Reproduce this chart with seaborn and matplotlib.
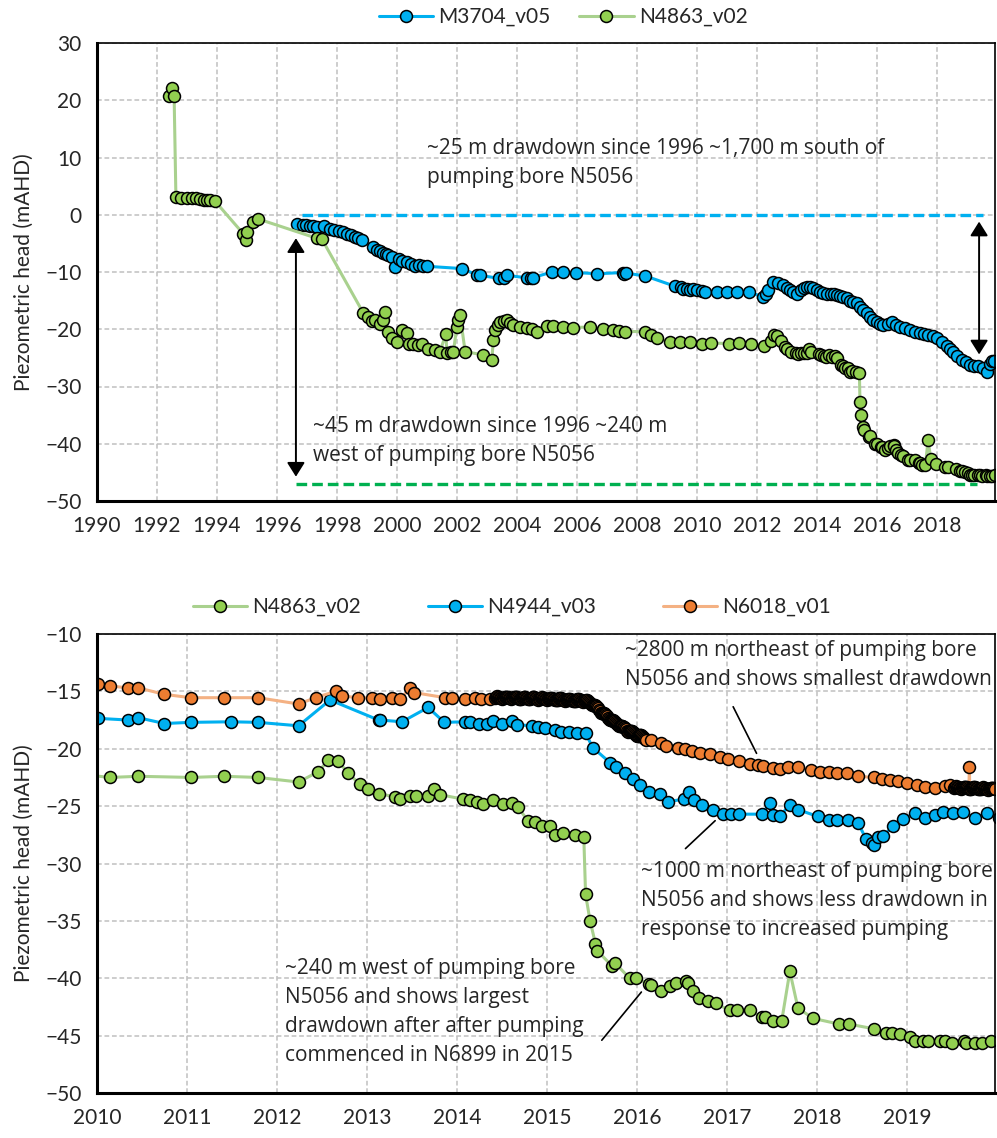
import matplotlib
matplotlib.use("Agg")
import matplotlib.pyplot as plt
import pandas as pd
import seaborn as sns

# ======================================================
# DATA (decimal years, piezometric head mAHD)
# ======================================================

m3704_year = [1996.68, 1996.85, 1996.95, 1997.10, 1997.20, 1997.32, 1997.55, 1997.75, 1997.90, 1998.05,
              1998.20, 1998.32, 1998.45, 1998.60, 1998.71, 1998.82, 1999.21, 1999.32, 1999.42, 1999.54,
              1999.62, 1999.71, 1999.82, 1999.93, 2000.05, 2000.16, 2000.32, 2000.45, 2000.60, 2000.72,
              2000.85, 2000.99, 2002.16, 2002.66, 2002.77, 2003.40, 2003.55, 2003.66, 2004.32, 2004.45,
              2004.52, 2005.16, 2005.54, 2005.95, 2006.68, 2007.52, 2007.58, 2007.64, 2008.28, 2009.27,
              2009.45, 2009.54, 2009.65, 2009.77, 2009.88, 2009.99, 2010.15, 2010.27, 2010.66, 2010.99,
              2011.32, 2011.74, 2012.19, 2012.30, 2012.38, 2012.54, 2012.70, 2012.88, 2013.00, 2013.10,
              2013.21, 2013.32, 2013.45, 2013.55, 2013.66, 2013.77, 2013.88, 2014.00, 2014.10, 2014.21,
              2014.32, 2014.45, 2014.55, 2014.66, 2014.77, 2014.88, 2014.99, 2015.10, 2015.21, 2015.32,
              2015.43, 2015.54, 2015.65, 2015.77, 2015.88, 2015.99, 2016.10, 2016.21, 2016.35, 2016.49,
              2016.63, 2016.77, 2016.92, 2017.10, 2017.25, 2017.43, 2017.57, 2017.71, 2017.85, 2017.99,
              2018.15, 2018.32, 2018.43, 2018.54, 2018.68, 2018.82, 2018.96, 2019.10, 2019.24, 2019.38,
              2019.52, 2019.66, 2019.75, 2019.82, 2019.90]
m3704_head = [-1.6, -1.8, -1.8, -1.9, -2.0, -2.2, -1.9, -2.5, -2.7, -2.9,
              -3.1, -3.35, -3.5, -3.8, -4.0, -4.4, -5.7, -6.1, -6.3, -6.6,
              -6.9, -7.1, -7.4, -9.15, -7.8, -8.0, -8.2, -8.6, -8.9, -8.7,
              -8.9, -9.0, -9.4, -10.5, -10.6, -11.1, -11.0, -10.6, -11.0, -11.1,
              -11.0, -10.0, -10.0, -10.1, -10.3, -10.1, -10.3, -10.2, -10.7, -12.5,
              -12.7, -12.9, -13.0, -13.1, -13.0, -13.2, -13.4, -13.5, -13.5, -13.5,
              -13.5, -13.5, -14.35, -13.8, -13.2, -11.75, -12.0, -12.2, -12.8, -13.2,
              -13.5, -13.8, -13.2, -12.8, -12.6, -12.6, -12.8, -13.2, -13.5, -13.6,
              -13.8, -13.9, -13.8, -14.0, -14.2, -14.4, -14.6, -15.0, -15.2, -15.5,
              -16.1, -16.7, -17.2, -17.8, -18.3, -18.7, -19.0, -19.3, -19.0, -18.7,
              -19.2, -19.6, -19.8, -20.1, -20.4, -20.7, -20.8, -21.0, -21.2, -21.6,
              -22.2, -23.0, -23.4, -23.9, -24.6, -25.3, -25.8, -26.2, -26.4, -26.5,
              -26.8, -27.5, -26.0, -25.6, -25.5]

n4863_year = [1992.41, 1992.49, 1992.57, 1992.63, 1992.80, 1992.99, 1993.16, 1993.30, 1993.43, 1993.55,
              1993.66, 1993.75, 1993.93, 1994.88, 1994.95, 1994.99, 1995.21, 1995.38, 1997.32, 1997.49,
              1998.88, 1999.04, 1999.15, 1999.27, 1999.43, 1999.54, 1999.60, 1999.71, 1999.82, 1999.99,
              2000.16, 2000.32, 2000.40, 2000.54, 2000.70, 2000.82, 2001.04, 2001.25, 2001.43, 2001.63,
              2001.66, 2001.80, 2001.88, 2001.99, 2002.04, 2002.10, 2002.27, 2002.88, 2003.16, 2003.21,
              2003.27, 2003.35, 2003.43, 2003.55, 2003.66, 2003.77, 2003.88, 2004.10, 2004.32, 2004.50,
              2004.66, 2004.99, 2005.21, 2005.54, 2005.88, 2006.43, 2006.88, 2007.21, 2007.40, 2007.60,
              2008.27, 2008.45, 2008.66, 2009.10, 2009.43, 2009.77,
              2010.15, 2010.46, 2011.05, 2011.41, 2011.79, 2012.24, 2012.46, 2012.57, 2012.68, 2012.79,
              2012.92, 2013.01, 2013.13, 2013.31, 2013.37, 2013.48, 2013.55, 2013.68, 2013.74, 2013.81,
              2014.07, 2014.14, 2014.22, 2014.29, 2014.40, 2014.51, 2014.61, 2014.68, 2014.79, 2014.87,
              2014.94, 2015.03, 2015.09, 2015.18, 2015.31, 2015.41, 2015.43, 2015.48, 2015.54, 2015.56,
              2015.72, 2015.76, 2015.92, 2015.99, 2016.13, 2016.16, 2016.27, 2016.37, 2016.44, 2016.55,
              2016.57, 2016.62, 2016.69, 2016.79, 2016.88, 2017.03, 2017.11, 2017.26, 2017.39, 2017.42,
              2017.51, 2017.61, 2017.70, 2017.79, 2017.96, 2018.25, 2018.36, 2018.63, 2018.77, 2018.84,
              2018.92, 2019.03, 2019.09, 2019.18, 2019.23, 2019.37, 2019.42, 2019.50, 2019.63, 2019.66,
              2019.76, 2019.84, 2019.94]
n4863_head = [20.8, 22.2, 20.8, 3.1, 3.0, 3.0, 3.0, 2.9, 2.7, 2.6,
              2.6, 2.5, 2.4, -3.35, -4.4, -3.1, -1.3, -0.75, -4.1, -4.2,
              -17.2, -17.8, -18.5, -18.4, -19.1, -18.4, -17.0, -20.4, -21.6, -22.2,
              -20.1, -20.6, -22.5, -22.5, -22.8, -22.5, -23.5, -23.6, -23.9, -20.8,
              -24.2, -24.0, -23.9, -19.6, -18.4, -17.5, -23.9, -24.5, -25.3, -21.9,
              -20.1, -19.3, -18.7, -18.5, -18.4, -18.9, -19.3, -19.6, -19.8, -20.0,
              -20.4, -19.4, -19.4, -19.6, -19.7, -19.6, -20.0, -20.1, -20.3, -20.4,
              -20.4, -21.0, -21.6, -22.2, -22.2, -22.2,
              -22.5, -22.4, -22.5, -22.4, -22.5, -22.9, -22.0, -21.0, -21.1, -22.1,
              -23.1, -23.5, -23.9, -24.2, -24.4, -24.1, -24.1, -24.1, -23.5, -24.0,
              -24.4, -24.5, -24.6, -24.8, -24.5, -24.8, -24.7, -25.1, -26.3, -26.4,
              -26.7, -26.7, -27.5, -27.3, -27.5, -27.7, -32.7, -35.0, -37.0, -37.6,
              -38.9, -38.7, -40.0, -40.0, -40.5, -40.6, -41.1, -40.7, -40.4, -40.2,
              -40.4, -41.1, -41.7, -42.0, -42.2, -42.8, -42.8, -42.8, -43.4, -43.4,
              -43.7, -43.7, -39.4, -42.6, -43.5, -44.0, -44.0, -44.4, -44.8, -44.8,
              -44.9, -45.1, -45.5, -45.5, -45.5, -45.5, -45.5, -45.6, -45.5, -45.6,
              -45.6, -45.6, -45.5]

n4944_year = [2010.01, 2010.35, 2010.46, 2010.75, 2011.04, 2011.49, 2011.79, 2012.24, 2012.59, 2013.13,
              2013.15, 2013.39, 2013.68, 2013.86, 2014.09, 2014.14, 2014.24, 2014.33, 2014.40, 2014.50,
              2014.61, 2014.67, 2014.83, 2014.90, 2014.98, 2015.09, 2015.16, 2015.25, 2015.33, 2015.43,
              2015.51, 2015.70, 2015.77, 2015.87, 2015.96, 2016.03, 2016.14, 2016.26, 2016.35, 2016.52,
              2016.58, 2016.63, 2016.72, 2016.85, 2016.96, 2017.05, 2017.13, 2017.39, 2017.48, 2017.51,
              2017.59, 2017.70, 2017.79, 2018.01, 2018.14, 2018.22, 2018.35, 2018.46, 2018.55, 2018.61,
              2018.64, 2018.68, 2018.74, 2018.85, 2018.96, 2019.09, 2019.20, 2019.31, 2019.40, 2019.51,
              2019.62, 2019.76, 2019.89, 2020.03]
n4944_head = [-17.35, -17.5, -17.3, -17.8, -17.7, -17.65, -17.7, -18.0, -15.75, -17.5,
              -17.5, -17.65, -16.4, -17.7, -17.65, -17.7, -17.85, -17.85, -17.55, -17.85,
              -17.55, -17.9, -18.0, -18.1, -18.2, -18.4, -18.5, -18.5, -18.65, -18.65,
              -19.9, -21.2, -21.6, -22.1, -22.6, -23.2, -23.75, -23.9, -24.6, -24.4,
              -23.8, -24.5, -24.9, -25.3, -25.7, -25.7, -25.7, -25.7, -24.7, -25.8,
              -25.85, -24.9, -25.3, -25.9, -26.2, -26.2, -26.2, -26.5, -27.9, -28.2,
              -28.4, -27.7, -27.6, -26.7, -26.1, -25.6, -26.0, -25.8, -25.5, -25.6,
              -25.5, -26.0, -25.6, -26.0]

# N6018: manual readings, logger period, later readings, logger at the end
n6018_year_a = [2010.01, 2010.15, 2010.35, 2010.46, 2010.75, 2011.04, 2011.41, 2011.79, 2012.24, 2012.43,
                2012.66, 2012.72, 2012.90, 2013.06, 2013.14, 2013.28, 2013.37, 2013.48, 2013.52, 2013.87,
                2013.95, 2014.09, 2014.20, 2014.27, 2014.37]
n6018_head_a = [-14.36, -14.53, -14.7, -14.7, -15.26, -15.55, -15.55, -15.55, -16.1, -15.55,
                -14.97, -15.4, -15.55, -15.55, -15.7, -15.55, -15.7, -14.68, -15.1, -15.55,
                -15.55, -15.7, -15.55, -15.7, -15.7]
n6018_year_b = [2014.42, 2014.43, 2014.44, 2014.45, 2014.46, 2014.47, 2014.48, 2014.49, 2014.50, 2014.51,
                2014.52, 2014.53, 2014.54, 2014.55, 2014.56, 2014.57, 2014.58, 2014.59, 2014.60, 2014.61,
                2014.62, 2014.63, 2014.64, 2014.65, 2014.66, 2014.67, 2014.68, 2014.69, 2014.70, 2014.71,
                2014.72, 2014.73, 2014.74, 2014.75, 2014.76, 2014.77, 2014.78, 2014.79, 2014.80, 2014.81,
                2014.82, 2014.83, 2014.84, 2014.85, 2014.86, 2014.87, 2014.88, 2014.89, 2014.90, 2014.91,
                2014.92, 2014.93, 2014.94, 2014.95, 2014.96, 2014.97, 2014.98, 2014.99, 2015.00, 2015.01,
                2015.02, 2015.03, 2015.04, 2015.05, 2015.06, 2015.07, 2015.08, 2015.09, 2015.10, 2015.11,
                2015.12, 2015.13, 2015.14, 2015.15, 2015.16, 2015.17, 2015.18, 2015.19, 2015.20, 2015.21,
                2015.22, 2015.23, 2015.24, 2015.25, 2015.26, 2015.27, 2015.28, 2015.29, 2015.30, 2015.31,
                2015.32, 2015.33, 2015.34, 2015.35, 2015.36, 2015.37, 2015.38, 2015.39, 2015.40, 2015.41,
                2015.42, 2015.43, 2015.44, 2015.45, 2015.46, 2015.47, 2015.48, 2015.49, 2015.50, 2015.51,
                2015.52, 2015.53, 2015.54, 2015.55, 2015.56, 2015.57, 2015.58, 2015.59, 2015.60, 2015.61,
                2015.62, 2015.63, 2015.64, 2015.65, 2015.66, 2015.67, 2015.68, 2015.69, 2015.70, 2015.71,
                2015.72, 2015.73, 2015.74, 2015.75, 2015.76, 2015.77, 2015.78, 2015.79, 2015.80, 2015.81,
                2015.82, 2015.83, 2015.84, 2015.85, 2015.86, 2015.87, 2015.88, 2015.89, 2015.90, 2015.91,
                2015.92, 2015.93, 2015.94, 2015.95, 2015.96, 2015.97, 2015.98, 2015.99, 2016.00, 2016.01,
                2016.02, 2016.03, 2016.04, 2016.05, 2016.06, 2016.07, 2016.08, 2016.09, 2016.10]
n6018_head_b = [-15.55, -15.50, -15.45, -15.43, -15.45, -15.50, -15.55, -15.60, -15.65, -15.60,
                -15.57, -15.52, -15.47, -15.45, -15.47, -15.52, -15.57, -15.62, -15.67, -15.62,
                -15.58, -15.53, -15.48, -15.46, -15.48, -15.53, -15.58, -15.63, -15.68, -15.63,
                -15.60, -15.55, -15.50, -15.48, -15.50, -15.55, -15.60, -15.65, -15.70, -15.65,
                -15.62, -15.57, -15.52, -15.50, -15.52, -15.57, -15.62, -15.67, -15.72, -15.67,
                -15.65, -15.60, -15.55, -15.53, -15.55, -15.60, -15.65, -15.70, -15.75, -15.70,
                -15.68, -15.63, -15.58, -15.56, -15.58, -15.63, -15.68, -15.73, -15.78, -15.73,
                -15.72, -15.67, -15.62, -15.60, -15.62, -15.67, -15.72, -15.77, -15.82, -15.77,
                -15.76, -15.71, -15.66, -15.64, -15.66, -15.71, -15.76, -15.81, -15.86, -15.81,
                -15.80, -15.75, -15.70, -15.68, -15.70, -15.75, -15.80, -15.85, -15.90, -15.85,
                -15.84, -15.80, -15.76, -15.75, -15.80, -15.89, -15.98, -16.08, -16.20, -16.20,
                -16.22, -16.23, -16.24, -16.28, -16.37, -16.49, -16.61, -16.73, -16.85, -16.87,
                -16.89, -16.91, -16.93, -16.98, -17.06, -17.17, -17.28, -17.39, -17.50, -17.51,
                -17.52, -17.53, -17.54, -17.58, -17.65, -17.75, -17.85, -17.95, -18.05, -18.05,
                -18.05, -18.05, -18.05, -18.08, -18.14, -18.23, -18.32, -18.41, -18.50, -18.49,
                -18.48, -18.47, -18.46, -18.48, -18.54, -18.63, -18.72, -18.81, -18.90, -18.88,
                -18.86, -18.84, -18.82, -18.83, -18.88, -18.96, -19.04, -19.12, -19.20]
n6018_year_c = [2016.16, 2016.27, 2016.32, 2016.46, 2016.53, 2016.61, 2016.70, 2016.81, 2016.92, 2017.01,
                2017.14, 2017.26, 2017.35, 2017.40, 2017.51, 2017.59, 2017.68, 2017.79, 2017.94, 2018.03,
                2018.13, 2018.22, 2018.33, 2018.46, 2018.63, 2018.72, 2018.81, 2018.90, 2019.00, 2019.11,
                2019.20, 2019.31, 2019.42, 2019.48]
n6018_head_c = [-19.25, -19.5, -19.8, -19.9, -20.05, -20.2, -20.35, -20.5, -20.75, -20.9,
                -21.1, -21.3, -21.4, -21.5, -21.7, -21.8, -21.6, -21.6, -21.85, -22.0,
                -22.0, -22.1, -22.15, -22.4, -22.5, -22.6, -22.7, -22.8, -23.0, -23.2,
                -23.3, -23.45, -23.25, -23.2]
n6018_year_d = [2019.52, 2019.53, 2019.54, 2019.55, 2019.56, 2019.57, 2019.58, 2019.59, 2019.60, 2019.61,
                2019.62, 2019.63, 2019.64, 2019.65, 2019.66, 2019.67, 2019.68, 2019.69, 2019.695, 2019.70,
                2019.71, 2019.72, 2019.73, 2019.74, 2019.75, 2019.76, 2019.77, 2019.78, 2019.79, 2019.80,
                2019.81, 2019.82, 2019.83, 2019.84, 2019.85, 2019.86, 2019.87, 2019.88, 2019.89, 2019.90,
                2019.91, 2019.92, 2019.93, 2019.94, 2019.95, 2019.96, 2019.97, 2019.98]
n6018_head_d = [-23.40, -23.35, -23.30, -23.28, -23.30, -23.35, -23.40, -23.45, -23.50, -23.45,
                -23.42, -23.37, -23.32, -23.30, -23.32, -23.37, -23.42, -23.47, -21.60, -23.52,
                -23.47, -23.45, -23.40, -23.35, -23.33, -23.35, -23.40, -23.45, -23.50, -23.55,
                -23.50, -23.48, -23.43, -23.38, -23.36, -23.38, -23.43, -23.48, -23.53, -23.58,
                -23.53, -23.50, -23.45, -23.40, -23.38, -23.40, -23.45, -23.50]

# reference levels (top panel)
blue_ref_level = 0.0
blue_ref_span = (1996.82, 2019.53)
green_ref_level = -47.1
green_ref_span = (1996.64, 2019.32)

# ======================================================
# STYLE
# ======================================================

sns.set_style("white")
plt.rcParams["font.family"] = ["Lato", "DejaVu Sans"]
plt.rcParams["font.size"] = 15

BLUE = "#00B0F0"
GREEN_LINE = "#A9D18E"
GREEN_FILL = "#92D050"
ORANGE_LINE = "#F4B183"
ORANGE_FILL = "#ED7D31"
GRID = "#C0C0C0"
NOTE_FONT = ["Open Sans", "DejaVu Sans"]

W, H = 997, 1138
fig = plt.figure(figsize=(W / 100, H / 100), dpi=100)
ax_top = fig.add_axes([97 / W, 1 - 501 / H, 898 / W, 458 / H])
ax_bot = fig.add_axes([97 / W, 1 - 1093 / H, 898 / W, 459 / H])


def style_axes(ax):
    ax.grid(True, color=GRID, linestyle=(0, (3.1, 1.8)), linewidth=1.1)
    ax.set_axisbelow(True)
    for side in ["left", "bottom"]:
        ax.spines[side].set_linewidth(2.2)
        ax.spines[side].set_color("black")
    for side in ["top", "right"]:
        ax.spines[side].set_linewidth(1.2)
        ax.spines[side].set_color("black")
    ax.tick_params(axis="both", direction="out", length=6, width=1.6,
                   labelsize=15, color="black", pad=5)
    ax.set_ylabel("Piezometric head (mAHD)", fontsize=15, labelpad=8)
    ax.set_xlabel("")


def draw_series(ax, years, heads, line_color, fill_color, label):
    df = pd.DataFrame({"year": years, "head": heads})
    sns.lineplot(data=df, x="year", y="head", ax=ax, sort=False, estimator=None,
                 color=line_color, linewidth=2.2, marker="o", markersize=8.6,
                 markerfacecolor=fill_color, markeredgecolor="black",
                 markeredgewidth=1.1, label=label)


def note(ax, x, y, text):
    ax.text(x, y, text, fontsize=15, family=NOTE_FONT, va="center", ha="left",
            linespacing=1.5, clip_on=False)


# ======================================================
# TOP PANEL
# ======================================================

draw_series(ax_top, m3704_year, m3704_head, BLUE, BLUE, "M3704_v05")
draw_series(ax_top, n4863_year, n4863_head, GREEN_LINE, GREEN_FILL, "N4863_v02")

ax_top.plot(blue_ref_span, [blue_ref_level] * 2, color=BLUE, linewidth=2.4,
            linestyle=(0, (3.2, 1.5)))
ax_top.plot(green_ref_span, [green_ref_level] * 2, color="#00B050", linewidth=2.4,
            linestyle=(0, (3.2, 1.5)))

arrow_kw = dict(arrowstyle="<|-|>,head_length=0.86,head_width=0.54", color="black",
                lw=1.4, mutation_scale=10, shrinkA=0, shrinkB=0)
ax_top.annotate("", xy=(1996.63, -4.1), xytext=(1996.63, -45.75), arrowprops=arrow_kw)
ax_top.annotate("", xy=(2019.4, -1.2), xytext=(2019.4, -24.4), arrowprops=arrow_kw)

note(ax_top, 2001.0, 9.1, "~25 m drawdown since 1996 ~1,700 m south of\npumping bore N5056")
note(ax_top, 1997.2, -39.5, "~45 m drawdown since 1996 ~240 m\nwest of pumping bore N5056")

ax_top.set_xlim(1990, 2019.93)
ax_top.set_ylim(-50, 30)
ax_top.set_xticks(range(1990, 2019, 2))
ax_top.set_yticks(range(-50, 31, 10))
style_axes(ax_top)
ax_top.legend(loc="center", bbox_to_anchor=(563 / W, 1 - 17 / H), bbox_transform=fig.transFigure,
              ncol=2, frameon=False, fontsize=15, handlelength=2.6, handletextpad=0.25,
              columnspacing=1.4)

# ======================================================
# BOTTOM PANEL
# ======================================================

draw_series(ax_bot, n4863_year, n4863_head, GREEN_LINE, GREEN_FILL, "N4863_v02")
draw_series(ax_bot, n4944_year, n4944_head, BLUE, BLUE, "N4944_v03")
n6018_year = n6018_year_a + n6018_year_b + n6018_year_c + n6018_year_d
n6018_head = n6018_head_a + n6018_head_b + n6018_head_c + n6018_head_d
draw_series(ax_bot, n6018_year, n6018_head, ORANGE_LINE, ORANGE_FILL, "N6018_v01")

ax_bot.plot([2017.07, 2017.33], [-16.34, -20.4], color="black", linewidth=1.2)
ax_bot.plot([2016.54, 2016.87], [-28.7, -26.27], color="black", linewidth=1.2)
ax_bot.plot([2015.61, 2016.05], [-45.4, -41.2], color="black", linewidth=1.2)

note(ax_bot, 2015.87, -12.68, "~2800 m northeast of pumping bore\nN5056 and shows smallest drawdown")
note(ax_bot, 2016.05, -33.19,
     "~1000 m northeast of pumping bore\nN5056 and shows less drawdown in\nresponse to increased pumping")
note(ax_bot, 2012.09, -42.93,
     "~240 m west of pumping bore\nN5056 and shows largest\ndrawdown after after pumping\ncommenced in N6899 in 2015")

ax_bot.set_xlim(2010, 2019.98)
ax_bot.set_ylim(-50, -10)
ax_bot.set_xticks(range(2010, 2020))
ax_bot.set_yticks(range(-50, -9, 5))
style_axes(ax_bot)
ax_bot.legend(loc="center", bbox_to_anchor=(512 / W, 1 - 607 / H), bbox_transform=fig.transFigure,
              ncol=3, frameon=False, fontsize=15, handlelength=2.6, handletextpad=0.25,
              columnspacing=3.2)

fig.savefig("out.png", dpi=100)
plt.close(fig)
